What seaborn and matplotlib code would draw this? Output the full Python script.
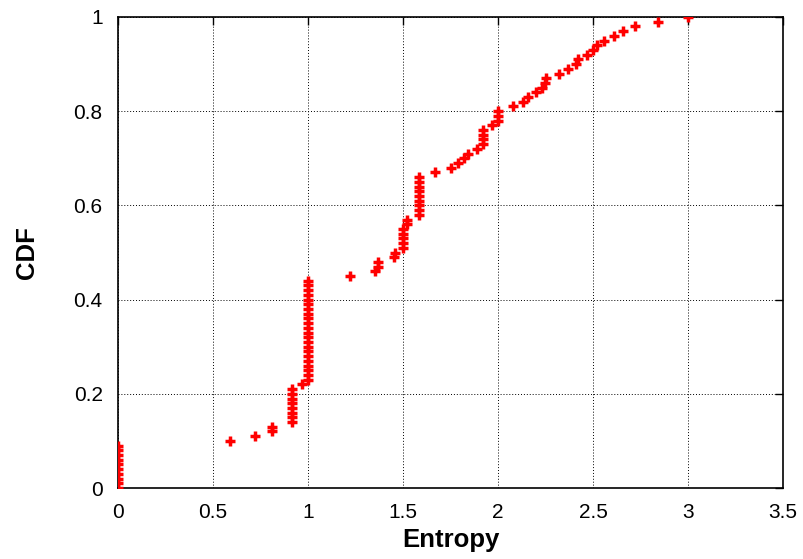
import matplotlib
matplotlib.use("Agg")
import matplotlib.pyplot as plt
import pandas as pd
import seaborn as sns
from matplotlib.ticker import FormatStrFormatter, MultipleLocator

# valores: entropia de cada amostra e CDF empírica
entropy = [
    0, 0, 0, 0, 0, 0, 0, 0, 0, 0,
    0.59, 0.72, 0.81, 0.81,
    0.918, 0.918, 0.918, 0.918, 0.918, 0.918, 0.918, 0.918,
    0.97,
    1, 1, 1, 1, 1, 1, 1, 1, 1, 1, 1, 1, 1, 1, 1, 1, 1, 1, 1, 1, 1, 1,
    1.22, 1.35, 1.37, 1.37, 1.45, 1.46,
    1.5, 1.5, 1.5, 1.5, 1.5, 1.52, 1.52,
    1.585, 1.585, 1.585, 1.585, 1.585, 1.585, 1.585, 1.585, 1.585,
    1.67, 1.75, 1.79, 1.82, 1.84, 1.89,
    1.92, 1.92, 1.92, 1.92, 1.97, 2.0, 2.0, 2.0,
    2.08, 2.13, 2.16, 2.2, 2.23, 2.245, 2.255, 2.32, 2.37, 2.41,
    2.42, 2.47, 2.5, 2.52, 2.56, 2.61, 2.66, 2.72, 2.84, 3.0,
]
cdf = [
    0.00, 0.01, 0.02, 0.03, 0.04, 0.05, 0.06, 0.07, 0.08, 0.09,
    0.10, 0.11, 0.12, 0.13, 0.14, 0.15, 0.16, 0.17, 0.18, 0.19,
    0.20, 0.21, 0.22, 0.23, 0.24, 0.25, 0.26, 0.27, 0.28, 0.29,
    0.30, 0.31, 0.32, 0.33, 0.34, 0.35, 0.36, 0.37, 0.38, 0.39,
    0.40, 0.41, 0.42, 0.43, 0.44, 0.45, 0.46, 0.47, 0.48, 0.49,
    0.50, 0.51, 0.52, 0.53, 0.54, 0.55, 0.56, 0.57, 0.58, 0.59,
    0.60, 0.61, 0.62, 0.63, 0.64, 0.65, 0.66, 0.67, 0.68, 0.69,
    0.70, 0.71, 0.72, 0.73, 0.74, 0.75, 0.76, 0.77, 0.78, 0.79,
    0.80, 0.81, 0.82, 0.83, 0.84, 0.85, 0.86, 0.87, 0.88, 0.89,
    0.90, 0.91, 0.92, 0.93, 0.94, 0.95, 0.96, 0.97, 0.98, 0.99,
    1.00,
]

df = pd.DataFrame({"Entropy": entropy, "CDF": cdf})

sns.set_style("white")
plt.rcParams["font.family"] = ["Liberation Sans", "DejaVu Sans"]

fig = plt.figure(figsize=(8.04, 5.59), dpi=100)
ax = fig.add_axes([0.1468, 0.127, 0.8271, 0.8426])

sns.scatterplot(data=df, x="Entropy", y="CDF", ax=ax, marker="+", s=50,
                color="#ff0000", linewidth=2.5, zorder=3)

ax.set_xlim(0, 3.5)
ax.set_ylim(0, 1)
ax.xaxis.set_major_locator(MultipleLocator(0.5))
ax.yaxis.set_major_locator(MultipleLocator(0.2))
ax.xaxis.set_major_formatter(FormatStrFormatter("%g"))
ax.yaxis.set_major_formatter(FormatStrFormatter("%g"))
ax.grid(True, color="black", linestyle=(0, (1, 2)), linewidth=0.7)
ax.tick_params(direction="in", top=True, right=True, length=6, width=1,
               labelsize=15, pad=11, colors="black")
for sp in ax.spines.values():
    sp.set_color("black")
    sp.set_linewidth(1.2)

ax.set_xlabel("Entropy", fontsize=18.5, fontweight="bold", labelpad=4, color="black")
ax.set_ylabel("CDF", fontsize=18.5, fontweight="bold", labelpad=25, color="black")

fig.savefig("out.png", dpi=100)
